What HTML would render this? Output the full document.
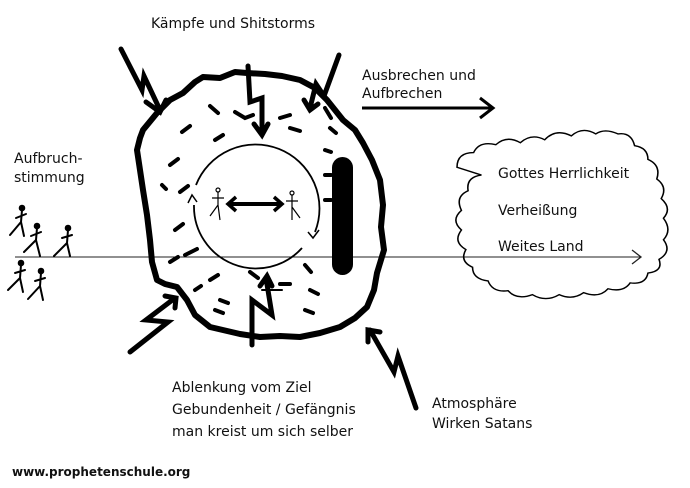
<!DOCTYPE html>
<html><head><meta charset="utf-8"><style>
html,body{margin:0;padding:0;background:#fff}
svg{display:block}
text{font-family:"DejaVu Sans","Liberation Sans",sans-serif;font-size:14px;fill:#111}
</style></head><body>
<svg width="690" height="488" viewBox="0 0 690 488" xmlns="http://www.w3.org/2000/svg">
<line x1="15" y1="257" x2="640" y2="257" stroke="#222" stroke-width="1"/>
<polyline points="632,250 641,257 632,264" fill="none" stroke="#222" stroke-width="1.3"/>
<path d="M157,113 L170,100 183,93 195,82 203,77 220,78 235,72 247,73 265,74 282,76 300,80 315,88 327,100 335,110 343,120 355,130 363,143 372,160 380,180 383,205 381,227 384,250 377,273 374,290 367,307 355,318 340,327 320,333 300,337 280,336 260,337 240,334 210,327 195,315 187,300 177,287 165,284 157,280 152,262 150,240 147,215 143,190 140,170 137,150 140,138 143,130 Z" fill="none" stroke="#000" stroke-width="6" stroke-linejoin="round"/>
<g stroke="#000" stroke-width="4" stroke-linecap="round" fill="none">
<path d="M210,106 l8,7"/><path d="M235,112 l10,6 l8,-3"/><path d="M280,118 l10,-3"/><path d="M290,128 l10,3"/>
<path d="M325,108 l6,10"/><path d="M330,128 l6,5"/><path d="M182,132 l8,-6"/><path d="M215,140 l8,-5"/>
<path d="M170,165 l8,-6"/><path d="M180,192 l8,-6"/><path d="M162,185 l4,4"/><path d="M175,230 l8,-6"/>
<path d="M170,262 l8,-5"/><path d="M185,255 l12,-6"/><path d="M210,280 l8,-5"/><path d="M220,300 l8,3"/>
<path d="M250,272 l8,6"/><path d="M280,284 l10,0"/><path d="M305,265 l6,7"/><path d="M310,290 l8,4"/>
<path d="M305,310 l8,3"/><path d="M215,310 l8,3"/><path d="M195,290 l6,-4"/><path d="M325,150 l6,2"/><path d="M325,175 l6,0"/><path d="M325,200 l6,0"/>
</g>
<path d="M196,185 A62,62 0 1 1 315,232" fill="none" stroke="#000" stroke-width="1.8"/>
<path d="M302,248 A62,62 0 0 1 194,205" fill="none" stroke="#000" stroke-width="1.8"/>
<polyline points="188,203 192,195 197,202" fill="none" stroke="#000" stroke-width="1.5"/>
<polyline points="308,232 313,238 319,230" fill="none" stroke="#000" stroke-width="1.5"/>
<line x1="230" y1="204" x2="280" y2="204" stroke="#000" stroke-width="4"/>
<polyline points="236,197 228,204 236,211" fill="none" stroke="#000" stroke-width="3.5"/>
<polyline points="274,197 282,204 274,211" fill="none" stroke="#000" stroke-width="3.5"/>
<g stroke="#000" stroke-width="1.2" fill="none">
<circle cx="218" cy="190" r="2"/><path d="M218,192 L218,205 M212,198 L224,198 M218,205 L210,216 M218,205 L220,220"/>
<circle cx="292" cy="193" r="2"/><path d="M292,195 L292,207 M286,201 L298,201 M292,207 L300,218 M292,207 L292,220"/>
</g>
<rect x="332" y="157" width="21" height="118" rx="10.5" fill="#000"/>
<g stroke="#000" stroke-width="5" fill="none" stroke-linecap="round" stroke-linejoin="miter">
<polyline points="121,49 142,90 144,76 160,110"/><polyline points="146,102 160,112 166,100"/>
<polyline points="248,66 250,102 262,98 262,132"/><polyline points="254,124 262,135 268,124"/>
<polyline points="339,55 324,96 316,84 310,108"/><polyline points="304,100 310,110 318,104"/>
<polyline points="130,352 168,322 146,320 175,298"/><polyline points="165,296 176,298 175,308"/>
<polyline points="252,345 252,300 272,315 266,278"/><polyline points="260,286 267,276 272,286"/>
<polyline points="416,408 398,356 394,372 370,330"/><polyline points="368,342 368,330 380,332"/>
<line x1="262" y1="290" x2="282" y2="290" stroke-width="2"/>
</g>
<line x1="362" y1="108" x2="492" y2="108" stroke="#000" stroke-width="3"/>
<polyline points="480,98 493,108 480,118" fill="none" stroke="#000" stroke-width="3"/>
<g transform="translate(457,130) scale(1.11,0.98) translate(-480,-122)">
<path d="M480,160 q0,-15 15,-15 q5,-12 20,-8 q10,-10 22,-2 q10,-10 22,-3 q10,-12 24,-4 q10,-10 22,-2 q8,-6 20,0 q12,-2 15,12 q12,2 12,14 q12,6 8,20 q10,8 4,20 q10,10 2,20 q8,12 0,22 q8,12 -4,20 q4,12 -10,14 q-2,12 -16,10 q-6,10 -20,6 q-8,10 -22,4 q-10,8 -22,2 q-12,8 -24,0 q-14,6 -22,-4 q-14,2 -18,-10 q-14,-2 -14,-14 q-12,-6 -6,-18 q-12,-8 -4,-20 q-10,-10 0,-20 q-6,-14 6,-20 q-2,-14 12,-16 Z" fill="none" stroke="#000" stroke-width="1.4"/>
</g>
<g stroke="#000" stroke-width="2" fill="none" stroke-linecap="round">
<circle cx="22" cy="208" r="2.3" fill="#000"/><path d="M22,210 L21,222 M16,218 L26,214 M21,222 L10,235 M21,222 L24,236"/>
<circle cx="37" cy="226" r="2.3" fill="#000"/><path d="M37,228 L36,240 M31,236 L41,232 M36,240 L24,252 M36,240 L40,256"/>
<circle cx="68" cy="228" r="2.3" fill="#000"/><path d="M68,230 L67,243 M62,238 L72,235 M67,243 L54,256 M67,243 L70,256"/>
<circle cx="21" cy="263" r="2.3" fill="#000"/><path d="M21,265 L20,278 M15,273 L25,270 M20,278 L8,290 M20,278 L23,292"/>
<circle cx="41" cy="271" r="2.3" fill="#000"/><path d="M41,273 L40,286 M35,281 L45,278 M40,286 L28,299 M40,286 L43,300"/>
</g>
<text x="151" y="28">Kämpfe und Shitstorms</text>
<text x="362" y="80">Ausbrechen und</text>
<text x="362" y="98">Aufbrechen</text>
<text x="14" y="163">Aufbruch-</text>
<text x="14" y="182">stimmung</text>
<text x="498" y="178">Gottes Herrlichkeit</text>
<text x="498" y="215">Verheißung</text>
<text x="498" y="251">Weites Land</text>
<text x="172" y="392">Ablenkung vom Ziel</text>
<text x="172" y="414">Gebundenheit / Gefängnis</text>
<text x="172" y="436">man kreist um sich selber</text>
<text x="432" y="408">Atmosphäre</text>
<text x="432" y="428">Wirken Satans</text>
<text x="12" y="476" style="font-size:12px;font-weight:bold">www.prophetenschule.org</text>
</svg>
</body></html>
